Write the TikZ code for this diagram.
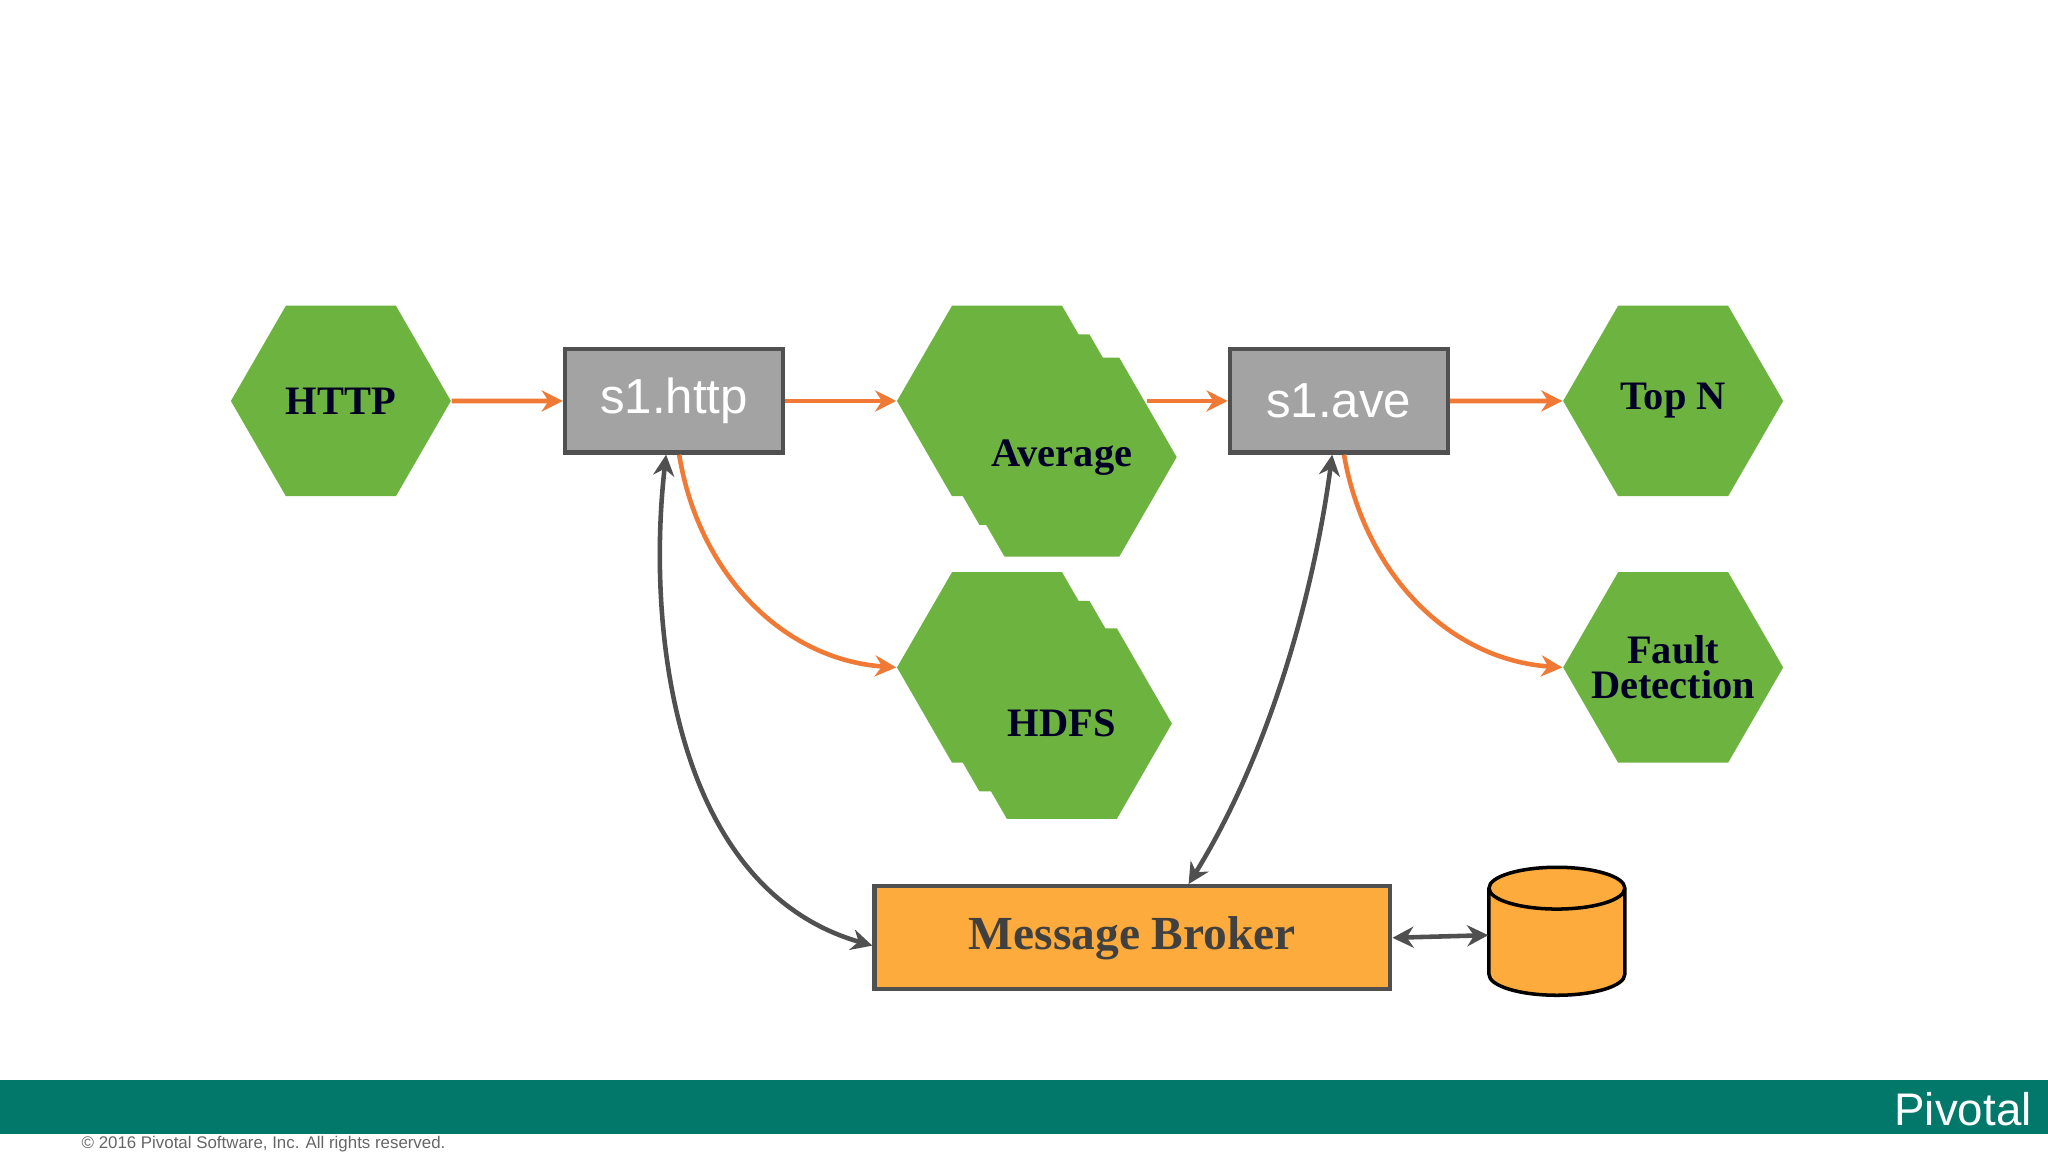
\documentclass[tikz,border=0pt]{standalone}
\usepackage{fontspec}
\setmainfont{Liberation Serif}
\newfontfamily\sansf{Liberation Sans}
\usetikzlibrary{shapes.geometric,arrows.meta}
\definecolor{hexgreen}{HTML}{6DB33F}
\definecolor{boxgray}{HTML}{A3A3A3}
\definecolor{edgegray}{HTML}{505050}
\definecolor{arrorange}{HTML}{F07A35}
\definecolor{brokerorange}{HTML}{FDAB3D}
\definecolor{teal}{HTML}{02786B}
\begin{document}
\begin{tikzpicture}[x=0.013061cm,y=-0.013061cm,
 hex/.style={regular polygon,regular polygon sides=6,shape border rotate=0,minimum size=2.2cm,fill=hexgreen,inner sep=0pt,font=\bfseries\fontsize{11.5}{12}\selectfont,text=black!85!blue,align=center},
 box/.style={draw=edgegray,line width=1.2pt,fill=boxgray,minimum width=167*0.013061cm,minimum height=79*0.013061cm,inner sep=1pt,text=white,font=\sansf\fontsize{14}{16}\selectfont},
 oarr/.style={draw=arrorange,line width=1.3pt,-{Stealth[length=6pt,width=6pt]}},
 garr/.style={draw=edgegray,line width=1.3pt,{Stealth[length=6pt,width=6pt]}-{Stealth[length=6pt,width=6pt]}}]
\useasboundingbox (0,0) rectangle (1568,882);
\fill[white] (0,0) rectangle (1568,882);
% footer
\fill[teal] (0,827) rectangle (1568,868);
\node[text=white,font=\sansf\fontsize{13}{14}\selectfont,anchor=east,inner sep=0pt] (piv) at (1556,849) {Pivotal};
\node[text=black!60,font=\sansf\fontsize{4.8}{5}\selectfont,anchor=west,inner sep=0pt] (copy) at (62,876) {© 2016 Pivotal Software, Inc.  All rights reserved.};
% hexes
\node[hex] (http) at (261,307) {HTTP};
\node[hex] (avgA) at (771,307) {};
\node[hex] (avgB) at (792,329) {};
\node[hex] (avg) at (813,350) {Average};
\node[hex] (hdfsA) at (771,511) {};
\node[hex] (hdfsB) at (792,533) {};
\node[hex] (hdfs) at (813,554) {HDFS};
\node[hex] (topn) at (1281,307) {Top N};
\node[hex,inner sep=-8pt] (fault) at (1281,511) {Fault\\[-2pt]Detection};
% boxes
\node[box] (s1h) at (516,307) {s1.http};
\node[box] (s1a) at (1025,307) {s1.ave};
\node[draw=edgegray,line width=1.2pt,fill=brokerorange,minimum width=395*0.013061cm,minimum height=79*0.013061cm,inner sep=1pt,font=\bfseries\fontsize{13.5}{15}\selectfont,text=black!75] (mb) at (867,718) {Message Broker};
% database cylinder
\node[minimum width=104*0.013061cm,minimum height=100*0.013061cm,inner sep=0pt] (db) at (1192,716) {};
\draw[black,line width=1pt,fill=brokerorange] (1140,680) -- (1140,746) arc[start angle=180,end angle=360,x radius=52,y radius=-16] -- (1244,680) arc[start angle=0,end angle=180,x radius=52,y radius=-16] -- cycle;
\draw[black,line width=1pt] (1140,680) arc[start angle=180,end angle=360,x radius=52,y radius=-16];
% arrows
\draw[oarr] (http.east) -- (s1h.west);
\draw[oarr] (s1h.east) -- (avgA.west);
\draw[oarr] (878,307) coordinate (ao) -- (s1a.west);
\draw[oarr] (s1a.east) -- (topn.west);
\draw[oarr] ([xshift=4*0.013061cm]s1h.south) .. controls (535,440) and (600,505) .. (hdfsA.west);
\draw[oarr] ([xshift=4*0.013061cm]s1a.south) .. controls (1045,440) and (1110,505) .. (fault.west);
\draw[garr] ([xshift=-6*0.013061cm]s1h.south) .. controls (495,480) and (515,680) .. ([yshift=-6*0.013061cm]mb.west);
\draw[garr] ([xshift=-5*0.013061cm]s1a.south) .. controls (1005,460) and (970,580) .. ([xshift=43*0.013061cm]mb.north);
\draw[garr] (mb.east) -- (db.west);
\end{tikzpicture}
\end{document}
